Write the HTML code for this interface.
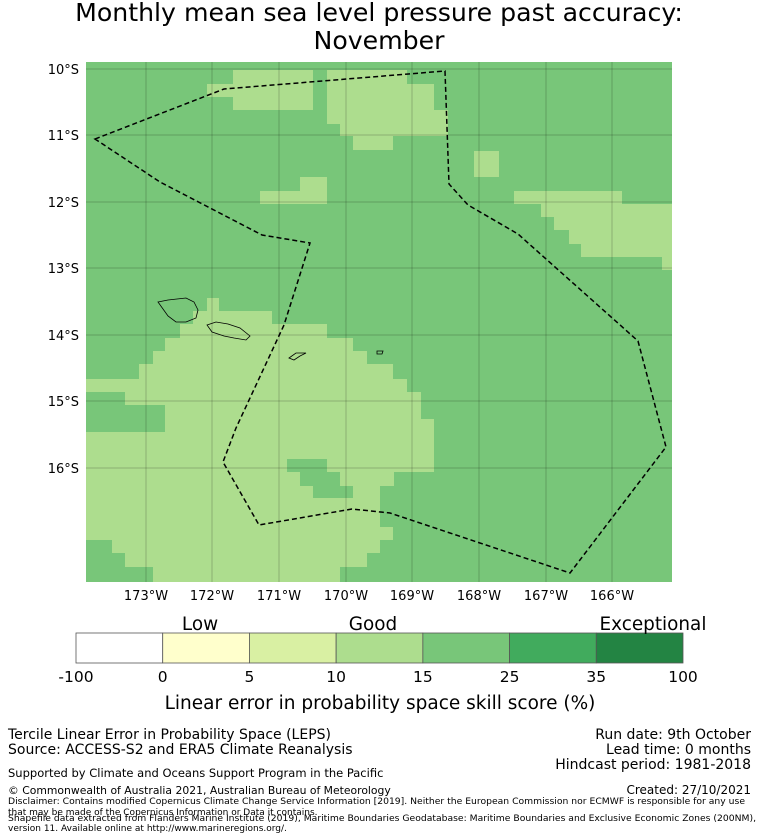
<!DOCTYPE html>
<html><head><meta charset="utf-8"><style>
body{margin:0;background:#fff;width:758px;height:839px;overflow:hidden;font-family:"DejaVu Sans","Liberation Sans",sans-serif;}
svg{position:absolute;left:0;top:0}
</style></head><body>
<svg width="758" height="839" xmlns="http://www.w3.org/2000/svg" font-family="DejaVu Sans, Liberation Sans, sans-serif">
<text x="379" y="21" text-anchor="middle" font-size="25.2">Monthly mean sea level pressure past accuracy:</text>
<text x="379" y="49" text-anchor="middle" font-size="25.2">November</text>
<g id="map">
<rect x="86" y="62" width="586" height="520" fill="#78c679"/>
<g fill="#addd8e">
<rect x="207" y="84" width="26" height="13"/><rect x="233" y="70" width="80" height="40"/>
<rect x="327" y="70" width="80" height="14"/><rect x="327" y="84" width="107" height="40"/><rect x="434" y="110" width="14" height="14"/>
<rect x="340" y="124" width="108" height="12"/><rect x="353" y="136" width="40" height="14"/>
<rect x="474" y="151" width="25" height="26"/>
<rect x="260" y="191" width="67" height="13"/><rect x="300" y="177" width="27" height="14"/>
<rect x="514" y="191" width="108" height="13"/><rect x="541" y="204" width="131" height="13"/><rect x="554" y="217" width="118" height="13"/>
<rect x="569" y="230" width="103" height="14"/><rect x="581" y="244" width="91" height="13"/><rect x="662" y="257" width="10" height="13"/>
<rect x="207" y="298" width="12" height="13"/><rect x="193" y="311" width="79" height="13"/><rect x="180" y="324" width="147" height="14"/>
<rect x="165" y="338" width="188" height="13"/><rect x="153" y="351" width="214" height="13"/><rect x="139" y="364" width="254" height="15"/>
<rect x="86" y="379" width="321" height="13"/><rect x="125" y="392" width="296" height="13"/><rect x="165" y="405" width="256" height="14"/>
<rect x="165" y="419" width="269" height="13"/><rect x="86" y="432" width="348" height="40"/>
<rect x="86" y="472" width="308" height="14"/><rect x="86" y="486" width="294" height="41"/><rect x="86" y="527" width="307" height="13"/>
<rect x="112" y="540" width="268" height="13"/><rect x="125" y="553" width="242" height="14"/><rect x="153" y="567" width="187" height="15"/>
</g>
<g fill="#78c679">
<rect x="287" y="459" width="40" height="13"/><rect x="300" y="472" width="40" height="14"/><rect x="313" y="486" width="40" height="12"/>
</g>
<g stroke="#000" stroke-opacity="0.2" stroke-width="1">
<line x1="146" y1="62" x2="146" y2="582"/><line x1="212" y1="62" x2="212" y2="582"/><line x1="279" y1="62" x2="279" y2="582"/><line x1="346" y1="62" x2="346" y2="582"/>
<line x1="412" y1="62" x2="412" y2="582"/><line x1="479" y1="62" x2="479" y2="582"/><line x1="546" y1="62" x2="546" y2="582"/><line x1="612" y1="62" x2="612" y2="582"/>
<line x1="86" y1="69" x2="672" y2="69"/><line x1="86" y1="135" x2="672" y2="135"/><line x1="86" y1="202" x2="672" y2="202"/><line x1="86" y1="268" x2="672" y2="268"/>
<line x1="86" y1="335" x2="672" y2="335"/><line x1="86" y1="401" x2="672" y2="401"/><line x1="86" y1="468" x2="672" y2="468"/>
</g>
<g fill="none" stroke="#000" stroke-width="0.8">
<path d="M158,302 L168,300 L186,298 L194,302 L198,310 L196,318 L186,322 L176,322 L168,316 Z"/>
<path d="M207,325 L216,322 L228,324 L240,328 L250,336 L246,340 L234,338 L224,336 L212,332 Z"/>
<path d="M289,358 L296,353 L306,353 L300,356 L294,360 Z"/>
<path d="M377,351 L383,351 L382,354 L377,354 Z"/>
</g>
<path d="M95,139 L224,89 L445,71 L449,184 L468,205 L518,234 L638,341 L666,447 L570,573 L390,513 L352,509 L259,525 L223,462 L236,428 L284,325 L310,243 L262,235 L160,182 Z" fill="none" stroke="#000" stroke-width="1.5" stroke-dasharray="5,3"/>
</g>
<g font-size="13" text-anchor="end">
<text x="79" y="74">10°S</text><text x="79" y="140">11°S</text><text x="79" y="207">12°S</text><text x="79" y="273">13°S</text>
<text x="79" y="340">14°S</text><text x="79" y="406">15°S</text><text x="79" y="473">16°S</text>
</g>
<g font-size="13" text-anchor="middle">
<text x="146" y="600">173°W</text><text x="212" y="600">172°W</text><text x="279" y="600">171°W</text><text x="346" y="600">170°W</text>
<text x="412" y="600">169°W</text><text x="479" y="600">168°W</text><text x="546" y="600">167°W</text><text x="612" y="600">166°W</text>
</g>
<g id="cbar"></g>
<g font-size="18.4" text-anchor="middle">
<text x="200" y="630">Low</text><text x="373" y="630">Good</text><text x="653" y="630">Exceptional</text>
</g>
<text x="380" y="709" font-size="18.5" text-anchor="middle">Linear error in probability space skill score (%)</text>
<g font-size="14">
<text x="8" y="739">Tercile Linear Error in Probability Space (LEPS)</text>
<text x="8" y="754">Source: ACCESS-S2 and ERA5 Climate Reanalysis</text>
<text x="8" y="777" font-size="11.5">Supported by Climate and Oceans Support Program in the Pacific</text>
<text x="8" y="794" font-size="10.8">© Commonwealth of Australia 2021, Australian Bureau of Meteorology</text>
</g>
<g font-size="14" text-anchor="end">
<text x="751" y="739">Run date: 9th October</text><text x="751" y="754">Lead time: 0 months</text>
<text x="751" y="769">Hindcast period: 1981-2018</text><text x="751" y="794" font-size="12">Created: 27/10/2021</text>
</g>
<g font-size="9">
<text x="8" y="804" textLength="737" lengthAdjust="spacingAndGlyphs">Disclaimer: Contains modified Copernicus Climate Change Service Information [2019]. Neither the European Commission nor ECMWF is responsible for any use</text>
<text x="8" y="815">that may be made of the Copernicus Information or Data it contains.</text>
<text x="8" y="821" textLength="748" lengthAdjust="spacingAndGlyphs">Shapefile data extracted from Flanders Marine Institute (2019), Maritime Boundaries Geodatabase: Maritime Boundaries and Exclusive Economic Zones (200NM),</text>
<text x="8" y="831">version 11. Available online at http://www.marineregions.org/.</text>
</g>
</svg>
<script>
const boundaries = ["-100","0","5","10","15","25","35","100"];
const binColors = ["#ffffff","#ffffcc","#d9f0a3","#addd8e","#78c679","#41ab5d","#238443"];
const NS="http://www.w3.org/2000/svg";
const g=document.getElementById('cbar');
const x0=76,x1=683,y0=633,h=30;
const bx=i=>x0+(x1-x0)*i/binColors.length;
binColors.forEach((c,i)=>{
  const r=document.createElementNS(NS,'rect');
  r.setAttribute('x',bx(i));r.setAttribute('y',y0);r.setAttribute('width',bx(i+1)-bx(i));r.setAttribute('height',h);
  r.setAttribute('fill',c);r.setAttribute('stroke','#555');r.setAttribute('stroke-width','0.8');
  
  
  g.appendChild(r);
});
boundaries.forEach((b,i)=>{
  const t=document.createElementNS(NS,'text');
  t.setAttribute('x',bx(i));t.setAttribute('y',682);t.setAttribute('font-size','15.5');t.setAttribute('text-anchor','middle');
  t.textContent=b;
  
  
  g.appendChild(t);
});
</script>
</body></html>
